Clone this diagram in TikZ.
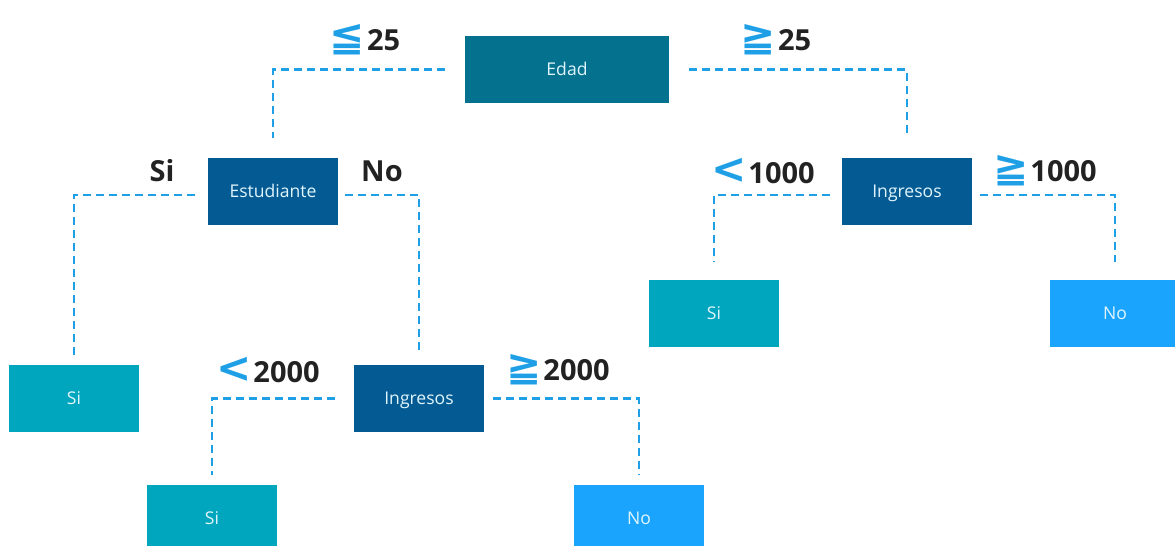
\documentclass[tikz,border=0pt]{standalone}
\usepackage{fontspec}
\setmainfont{Open Sans}
\newfontfamily\symfont{DejaVu Sans}
\usetikzlibrary{positioning}

\definecolor{rootblue}{HTML}{04728F}
\definecolor{testblue}{HTML}{045B94}
\definecolor{sicol}{HTML}{00A6BD}
\definecolor{nocol}{HTML}{1BA4FE}
\definecolor{linecol}{HTML}{1FA0E6}
\definecolor{labelgray}{HTML}{222222}

\tikzset{
  box/.style={rectangle, minimum width=2.6cm, minimum height=1.34cm, inner sep=0pt,
              text height=1.55ex, text depth=0.35ex,
              text=white!88!cyan, font=\fontsize{10}{12}\selectfont},
  rootbox/.style={box, fill=rootblue, minimum width=4.08cm},
  testbox/.style={box, fill=testblue},
  sibox/.style={box, fill=sicol},
  nobox/.style={box, fill=nocol},
  branch/.style={draw=linecol, line width=1.3pt, dash pattern=on 4.6pt off 2.8pt},
  cond/.style={font=\fontsize{16.5}{18}\bfseries\selectfont, text=labelgray, inner sep=0pt}
}
\newcommand{\rel}[1]{{\color{linecol}\symfont\fontsize{24}{24}\bfseries\selectfont #1}\kern1pt}

\begin{document}
\begin{tikzpicture}[x=0.02cm, y=-0.02cm]
  \clip (0,0) rectangle (1175,546);

  % nodes
  \node[rootbox] (edad) at (567,69.5) {Edad};
  \node[testbox] (est) at (273,191.5) {Estudiante};
  \node[testbox] (ingR) at (907,191.5) {Ingresos};
  \node[testbox] (ingM) at (419,398.5) {Ingresos};
  \node[sibox] (siL) at (74,398.5) {Si};
  \node[sibox] (siB) at (212,518.5) {Si};
  \node[nobox] (noB) at (639,518.5) {No};
  \node[sibox] (siR) at (714,313.5) {Si};
  \node[nobox] (noR) at (1115,313.5) {No};

  % branches
  \draw[branch, shorten <=0.4cm, shorten >=0.4cm] (edad.west) -| (est.north);
  \draw[branch, shorten <=0.4cm, shorten >=0.4cm] (edad.east) -| (ingR.north);
  \draw[branch, shorten <=0.26cm, shorten >=0.2cm] ([yshift=-0.07cm]est.west) -| (siL.north);
  \draw[branch, shorten <=0.14cm, shorten >=0.2cm] ([yshift=-0.07cm]est.east) -| (ingM.north);
  \draw[branch, shorten <=0.38cm, shorten >=0.2cm] (ingM.west) -| (siB.north);
  \draw[branch, shorten <=0.18cm, shorten >=0.2cm] (ingM.east) -| (noB.north);
  \draw[branch, shorten <=0.24cm, shorten >=0.36cm] ([yshift=-0.07cm]ingR.west) -| (siR.north);
  \draw[branch, shorten <=0.16cm, shorten >=0.36cm] ([yshift=-0.07cm]ingR.east) -| (noR.north);

  % conditions
  \node[cond] (c25a) at (365,40) {\rel{≦}25};
  \node[cond] (c25b) at (776,40) {\rel{≧}25};
  \node[cond] (cSi) at (162,171) {Si};
  \node[cond] (cNo) at (382,171) {No};
  \node[cond] (c1000a) at (763,171) {\rel{<}1000};
  \node[cond] (c1000b) at (1045,171) {\rel{≧}1000};
  \node[cond] (c2000a) at (268,370) {\rel{<}2000};
  \node[cond] (c2000b) at (558,370) {\rel{≧}2000};
\end{tikzpicture}
\end{document}
